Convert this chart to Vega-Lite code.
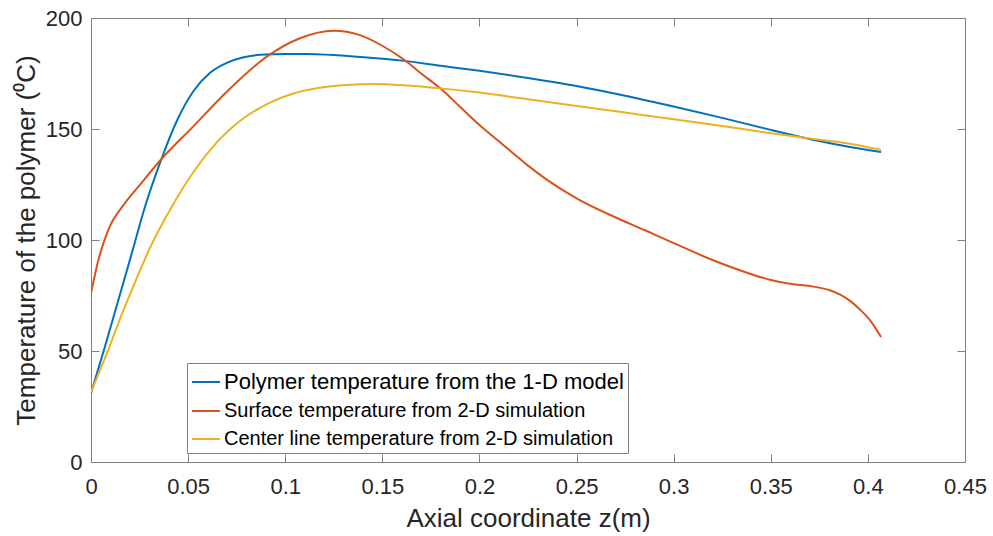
{
  "$schema": "https://vega.github.io/schema/vega-lite/v6.json",
  "autosize": "none",
  "width": 874,
  "height": 444,
  "padding": {"left": 91, "top": 18, "right": 28, "bottom": 74},
  "background": "white",
  "config": {
    "font": "Liberation Sans",
    "view": {"stroke": null},
    "axis": {
      "grid": false,
      "domainColor": "#808080",
      "tickColor": "#808080",
      "labelColor": "#262626",
      "titleColor": "#262626",
      "labelFont": "Liberation Sans",
      "titleFont": "Liberation Sans",
      "labelFontSize": 22,
      "titleFontSize": 26,
      "titleFontWeight": "normal",
      "tickSize": -8,
      "domainWidth": 1,
      "tickWidth": 1
    }
  },
  "data": {
    "values": [
      {"series": "Polymer temperature from the 1-D model", "z": 0, "T": 31},
      {"series": "Polymer temperature from the 1-D model", "z": 0.0036, "T": 41.5},
      {"series": "Polymer temperature from the 1-D model", "z": 0.0072, "T": 52},
      {"series": "Polymer temperature from the 1-D model", "z": 0.0141, "T": 73},
      {"series": "Polymer temperature from the 1-D model", "z": 0.021, "T": 94},
      {"series": "Polymer temperature from the 1-D model", "z": 0.0278, "T": 115},
      {"series": "Polymer temperature from the 1-D model", "z": 0.0364, "T": 136.8},
      {"series": "Polymer temperature from the 1-D model", "z": 0.0441, "T": 153.5},
      {"series": "Polymer temperature from the 1-D model", "z": 0.0527, "T": 167},
      {"series": "Polymer temperature from the 1-D model", "z": 0.0613, "T": 175.3},
      {"series": "Polymer temperature from the 1-D model", "z": 0.0699, "T": 179.8},
      {"series": "Polymer temperature from the 1-D model", "z": 0.078, "T": 182.2},
      {"series": "Polymer temperature from the 1-D model", "z": 0.087, "T": 183.4},
      {"series": "Polymer temperature from the 1-D model", "z": 0.1, "T": 183.8},
      {"series": "Polymer temperature from the 1-D model", "z": 0.11, "T": 183.8},
      {"series": "Polymer temperature from the 1-D model", "z": 0.125, "T": 183.3},
      {"series": "Polymer temperature from the 1-D model", "z": 0.1385, "T": 182.4},
      {"series": "Polymer temperature from the 1-D model", "z": 0.16, "T": 180.8},
      {"series": "Polymer temperature from the 1-D model", "z": 0.18, "T": 178.5},
      {"series": "Polymer temperature from the 1-D model", "z": 0.2, "T": 176.2},
      {"series": "Polymer temperature from the 1-D model", "z": 0.225, "T": 173},
      {"series": "Polymer temperature from the 1-D model", "z": 0.25, "T": 169.4},
      {"series": "Polymer temperature from the 1-D model", "z": 0.275, "T": 165},
      {"series": "Polymer temperature from the 1-D model", "z": 0.3, "T": 160.1},
      {"series": "Polymer temperature from the 1-D model", "z": 0.325, "T": 155},
      {"series": "Polymer temperature from the 1-D model", "z": 0.35, "T": 149.6},
      {"series": "Polymer temperature from the 1-D model", "z": 0.375, "T": 144.6},
      {"series": "Polymer temperature from the 1-D model", "z": 0.39, "T": 142},
      {"series": "Polymer temperature from the 1-D model", "z": 0.4068, "T": 139.6},

      {"series": "Surface temperature from 2-D simulation", "z": 0, "T": 76},
      {"series": "Surface temperature from 2-D simulation", "z": 0.0038, "T": 91},
      {"series": "Surface temperature from 2-D simulation", "z": 0.0089, "T": 104.6},
      {"series": "Surface temperature from 2-D simulation", "z": 0.0175, "T": 116.6},
      {"series": "Surface temperature from 2-D simulation", "z": 0.0244, "T": 124},
      {"series": "Surface temperature from 2-D simulation", "z": 0.0364, "T": 136.6},
      {"series": "Surface temperature from 2-D simulation", "z": 0.0527, "T": 151.2},
      {"series": "Surface temperature from 2-D simulation", "z": 0.0699, "T": 166.8},
      {"series": "Surface temperature from 2-D simulation", "z": 0.0905, "T": 182.6},
      {"series": "Surface temperature from 2-D simulation", "z": 0.1076, "T": 190.9},
      {"series": "Surface temperature from 2-D simulation", "z": 0.1248, "T": 194.3},
      {"series": "Surface temperature from 2-D simulation", "z": 0.1385, "T": 192.3},
      {"series": "Surface temperature from 2-D simulation", "z": 0.15, "T": 187.5},
      {"series": "Surface temperature from 2-D simulation", "z": 0.1626, "T": 180.3},
      {"series": "Surface temperature from 2-D simulation", "z": 0.17, "T": 175},
      {"series": "Surface temperature from 2-D simulation", "z": 0.18, "T": 168.2},
      {"series": "Surface temperature from 2-D simulation", "z": 0.19, "T": 160},
      {"series": "Surface temperature from 2-D simulation", "z": 0.2, "T": 151.8},
      {"series": "Surface temperature from 2-D simulation", "z": 0.21, "T": 144.5},
      {"series": "Surface temperature from 2-D simulation", "z": 0.2175, "T": 139},
      {"series": "Surface temperature from 2-D simulation", "z": 0.225, "T": 133.5},
      {"series": "Surface temperature from 2-D simulation", "z": 0.235, "T": 127},
      {"series": "Surface temperature from 2-D simulation", "z": 0.25, "T": 118.8},
      {"series": "Surface temperature from 2-D simulation", "z": 0.269, "T": 110.6},
      {"series": "Surface temperature from 2-D simulation", "z": 0.285, "T": 104.5},
      {"series": "Surface temperature from 2-D simulation", "z": 0.3, "T": 98.6},
      {"series": "Surface temperature from 2-D simulation", "z": 0.32, "T": 91},
      {"series": "Surface temperature from 2-D simulation", "z": 0.334, "T": 86.4},
      {"series": "Surface temperature from 2-D simulation", "z": 0.35, "T": 82},
      {"series": "Surface temperature from 2-D simulation", "z": 0.36, "T": 80.3},
      {"series": "Surface temperature from 2-D simulation", "z": 0.372, "T": 79},
      {"series": "Surface temperature from 2-D simulation", "z": 0.38, "T": 77.5},
      {"series": "Surface temperature from 2-D simulation", "z": 0.386, "T": 75.3},
      {"series": "Surface temperature from 2-D simulation", "z": 0.392, "T": 71.8},
      {"series": "Surface temperature from 2-D simulation", "z": 0.396, "T": 68.6},
      {"series": "Surface temperature from 2-D simulation", "z": 0.4, "T": 65},
      {"series": "Surface temperature from 2-D simulation", "z": 0.4028, "T": 61.8},
      {"series": "Surface temperature from 2-D simulation", "z": 0.4068, "T": 56.3},

      {"series": "Center line temperature from 2-D simulation", "z": 0, "T": 31.5},
      {"series": "Center line temperature from 2-D simulation", "z": 0.004, "T": 40},
      {"series": "Center line temperature from 2-D simulation", "z": 0.008, "T": 48.5},
      {"series": "Center line temperature from 2-D simulation", "z": 0.0141, "T": 62.6},
      {"series": "Center line temperature from 2-D simulation", "z": 0.0227, "T": 81},
      {"series": "Center line temperature from 2-D simulation", "z": 0.0312, "T": 98},
      {"series": "Center line temperature from 2-D simulation", "z": 0.0416, "T": 115},
      {"series": "Center line temperature from 2-D simulation", "z": 0.0527, "T": 130.5},
      {"series": "Center line temperature from 2-D simulation", "z": 0.0613, "T": 140.5},
      {"series": "Center line temperature from 2-D simulation", "z": 0.0699, "T": 148.5},
      {"series": "Center line temperature from 2-D simulation", "z": 0.078, "T": 154.5},
      {"series": "Center line temperature from 2-D simulation", "z": 0.087, "T": 159.5},
      {"series": "Center line temperature from 2-D simulation", "z": 0.095, "T": 163},
      {"series": "Center line temperature from 2-D simulation", "z": 0.1042, "T": 166},
      {"series": "Center line temperature from 2-D simulation", "z": 0.1214, "T": 169},
      {"series": "Center line temperature from 2-D simulation", "z": 0.1385, "T": 170.2},
      {"series": "Center line temperature from 2-D simulation", "z": 0.1454, "T": 170.3},
      {"series": "Center line temperature from 2-D simulation", "z": 0.1626, "T": 169.6},
      {"series": "Center line temperature from 2-D simulation", "z": 0.18, "T": 168.3},
      {"series": "Center line temperature from 2-D simulation", "z": 0.2, "T": 166.4},
      {"series": "Center line temperature from 2-D simulation", "z": 0.225, "T": 163.4},
      {"series": "Center line temperature from 2-D simulation", "z": 0.25, "T": 160.4},
      {"series": "Center line temperature from 2-D simulation", "z": 0.275, "T": 157.4},
      {"series": "Center line temperature from 2-D simulation", "z": 0.3, "T": 154.4},
      {"series": "Center line temperature from 2-D simulation", "z": 0.325, "T": 151.3},
      {"series": "Center line temperature from 2-D simulation", "z": 0.35, "T": 148.1},
      {"series": "Center line temperature from 2-D simulation", "z": 0.375, "T": 145.2},
      {"series": "Center line temperature from 2-D simulation", "z": 0.389, "T": 143.6},
      {"series": "Center line temperature from 2-D simulation", "z": 0.4068, "T": 140.6}
    ]
  },
  "layer": [
    {
      "mark": {"type": "line", "strokeWidth": 2, "interpolate": "monotone", "clip": true},
      "encoding": {
        "x": {
          "field": "z", "type": "quantitative",
          "scale": {"domain": [0, 0.45], "nice": false, "zero": false},
          "axis": {
            "orient": "bottom",
            "title": "Axial coordinate z(m)",
            "values": [0, 0.05, 0.1, 0.15, 0.2, 0.25, 0.3, 0.35, 0.4, 0.45],
            "format": "~g",
            "labelPadding": 22,
            "titlePadding": 8,
            "labelFlush": false
          }
        },
        "y": {
          "field": "T", "type": "quantitative",
          "scale": {"domain": [0, 200], "nice": false},
          "axis": {
            "orient": "left",
            "title": "Temperature of the polymer (⁰C)",
            "values": [0, 50, 100, 150, 200],
            "labelPadding": 17,
            "titlePadding": 6
          }
        },
        "color": {
          "field": "series", "type": "nominal",
          "scale": {
            "domain": ["Polymer temperature from the 1-D model", "Surface temperature from 2-D simulation", "Center line temperature from 2-D simulation"],
            "range": ["#0072BD", "#D95319", "#EDB120"]
          },
          "legend": {
            "title": null,
            "orient": "none",
            "legendX": 96,
            "legendY": 345,
            "symbolType": "stroke",
            "symbolSize": 784,
            "symbolStrokeWidth": 2,
            "labelFontSize": 20,
            "labelColor": "#000000",
            "labelFont": "Liberation Sans",
            "labelOffset": 3,
            "rowPadding": 3,
            "padding": 4,
            "strokeColor": "#808080",
            "fillColor": "white",
            "labelLimit": 600,
            "encode": {
              "labels": {"update": {"fontSize": {"signal": "datum.label === 'Polymer temperature from the 1-D model' ? 22 : 20"}}}
            }
          }
        }
      }
    },
    {
      "mark": {"type": "line", "opacity": 0},
      "encoding": {
        "x": {
          "field": "z", "type": "quantitative",
          "axis": {"orient": "top", "title": null, "labels": false, "values": [0, 0.05, 0.1, 0.15, 0.2, 0.25, 0.3, 0.35, 0.4, 0.45]}
        },
        "y": {
          "field": "T", "type": "quantitative",
          "axis": {"orient": "right", "title": null, "labels": false, "values": [0, 50, 100, 150, 200]}
        },
        "detail": {"field": "series"}
      }
    }
  ],
  "resolve": {"axis": {"x": "independent", "y": "independent"}}
}
